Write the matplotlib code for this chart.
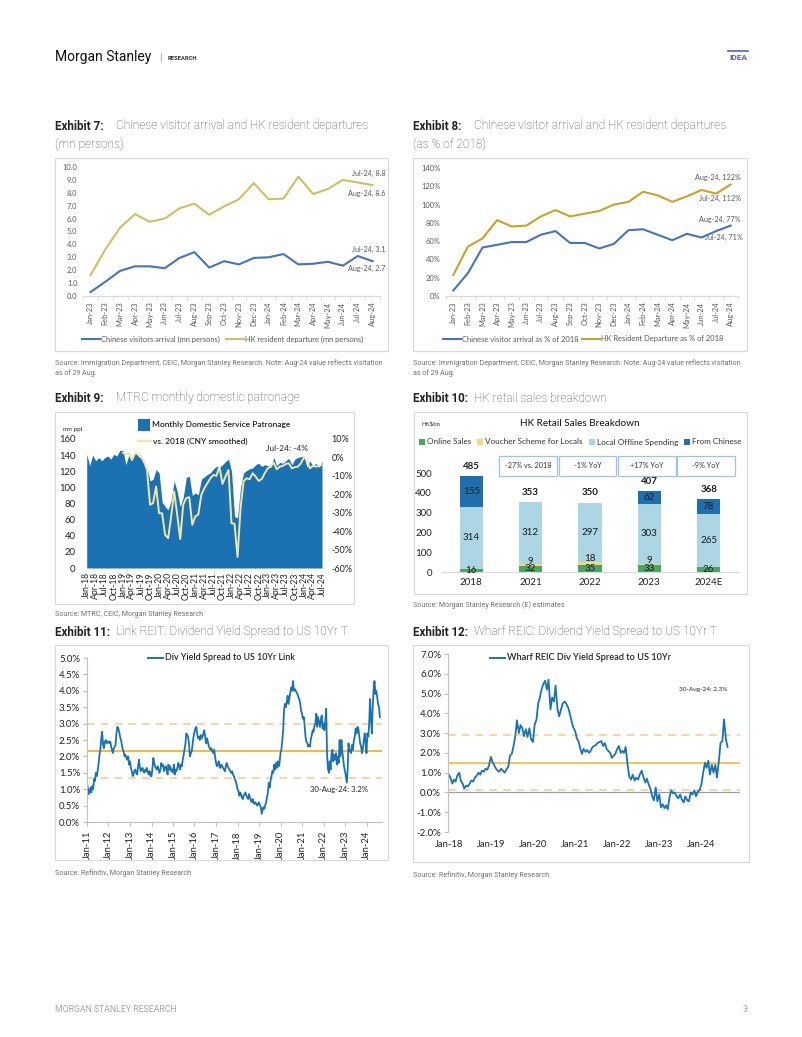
import matplotlib
matplotlib.use("Agg")
import matplotlib.pyplot as plt
import matplotlib.dates as mdates
from matplotlib.patches import Rectangle
from matplotlib.lines import Line2D
import numpy as np
import pandas as pd

# ---------------- data ----------------
months_2324 = ["Jan-23", "Feb-23", "Mar-23", "Apr-23", "May-23", "Jun-23", "Jul-23", "Aug-23",
               "Sep-23", "Oct-23", "Nov-23", "Dec-23", "Jan-24", "Feb-24", "Mar-24", "Apr-24",
               "May-24", "Jun-24", "Jul-24", "Aug-24"]
cn_arrivals_mn = [0.3, 1.1, 1.95, 2.3, 2.3, 2.15, 2.95, 3.4, 2.2, 2.7, 2.45, 2.95,
                  3.0, 3.25, 2.45, 2.5, 2.65, 2.35, 3.1, 2.7]
hk_departures_mn = [1.6, 3.6, 5.3, 6.35, 5.75, 6.0, 6.8, 7.15, 6.3, 6.95, 7.5, 8.75,
                    7.5, 7.55, 9.25, 7.9, 8.3, 9.0, 8.8, 8.6]
cn_arrivals_pct = [6, 25, 53, 56, 59, 59, 67, 71, 58, 58, 52, 57,
                   72, 73, 67, 61, 68, 64, 71, 77]
hk_departures_pct = [23, 54, 63, 83, 76, 77, 87, 94, 87, 90, 93, 100,
                     103, 114, 110, 103, 109, 116, 112, 122]

# MTR monthly domestic patronage (mn), Jan-18 .. Jul-24
mtr_patronage = [141, 127, 140, 133, 137, 133, 137, 139, 135, 141, 139, 146,
                 146, 128, 141, 135, 143, 139, 136, 129, 124, 108, 110, 122,
                 118, 82, 76, 72, 84, 108, 95, 76, 88, 112, 114, 90,
                 93, 91, 110, 113, 116, 118, 123, 126, 125, 128, 132, 135,
                 120, 64, 62, 100, 118, 121, 123, 124, 128, 130, 126, 128,
                 127, 125, 137, 127, 131, 130, 133, 136, 128, 135, 137, 138,
                 139, 125, 133, 126, 130, 125, 132]
# vs. 2018 (CNY smoothed, %), Jan-19 .. Jul-24
mtr_vs_2018 = [2.6, 1.7, 2.2, -1.4, 2.2, 2.0, 0.8, -2.3, -6.8, -25.7, -24.8, -15.8,
               -30.3, -30.3, -42.0, -43.8, -32.0, -18.5, -31.0, -44.3, -25.7, -22.0, -21.6, -36.6,
               -32.0, -31.0, -20.3, -16.7, -14.0, -11.3, -9.5, -10.0, -5.0, -14.4, -10.4, -6.8,
               -35.7, -36.0, -54.0, -27.5, -13.0, -11.3, -11.8, -8.6, -10.4, -12.7, -11.8, -8.6,
               -5.9, -5.0, -2.8, -6.4, -5.0, -4.6, -3.5, -3.2, -5.9, -5.3, -5.0, -3.2,
               0.1, -1.4, -5.9, -4.6, -5.0, -4.6, -4.0]

retail_years = ["2018", "2021", "2022", "2023", "2024E"]
online_sales = [16, 32, 35, 33, 26]
voucher_scheme = [0, 9, 18, 9, 0]
local_offline = [314, 312, 297, 303, 265]
from_chinese = [155, 0, 0, 62, 78]
retail_total = [485, 353, 350, 407, 368]
retail_growth = ["-27% vs. 2018", "-1% YoY", "+17% YoY", "-9% YoY"]

# Link REIT div yield spread (%), semi-monthly Jan-11 .. Aug-24
link_spread = [
    1.20, 1.05, 0.85, 0.95, 1.05, 0.90, 1.10, 1.00, 1.30, 1.25, 1.50, 1.40, 1.55, 1.75, 2.05, 2.20, 2.55, 2.75, 2.35, 2.25, 2.45, 2.50, 2.40, 2.45,
    2.45, 2.40, 2.45, 2.30, 2.20, 2.10, 2.25, 2.30, 2.35, 2.70, 2.90, 2.85, 2.75, 2.60, 2.50, 2.35, 2.20, 2.15, 2.00, 2.05, 1.95, 1.90, 2.00, 1.75,
    1.85, 1.65, 1.55, 1.40, 1.45, 1.55, 1.60, 1.50, 1.45, 1.65, 1.90, 1.70, 1.55, 1.60, 1.65, 1.55, 1.50, 1.60, 1.55, 1.65, 1.50, 1.45, 1.55, 1.40,
    1.40, 1.60, 1.95, 1.80, 1.70, 1.65, 1.60, 1.70, 1.60, 1.50, 1.60, 1.80, 1.70, 1.75, 1.55, 1.65, 1.70, 1.60, 1.45, 1.75, 1.60, 1.70, 1.55, 1.60,
    1.50, 1.75, 1.45, 1.60, 1.55, 1.65, 1.80, 1.70, 1.60, 1.75, 1.70, 1.90, 2.05, 2.20, 2.40, 2.70, 2.65, 2.60, 2.35, 2.00, 2.10, 2.15, 2.40, 2.60,
    2.75, 2.85, 2.90, 2.70, 2.55, 2.60, 2.50, 2.65, 2.55, 2.60, 2.70, 2.80, 2.60, 2.40, 2.55, 2.45, 2.30, 2.25, 2.20, 2.25, 2.15, 2.10, 2.20, 2.00,
    1.80, 1.70, 1.75, 1.85, 1.70, 1.65, 1.75, 1.70, 1.65, 1.60, 1.55, 1.70, 1.80, 1.70, 1.65, 1.60, 1.55, 1.50, 1.55, 1.45, 1.40, 1.30, 1.25, 1.15,
    1.00, 0.95, 0.80, 0.90, 0.85, 0.75, 0.70, 0.80, 0.85, 0.90, 0.80, 0.75, 0.70, 0.85, 0.75, 0.65, 0.60, 0.70, 0.60, 0.55, 0.60, 0.55, 0.50, 0.55,
    0.60, 0.50, 0.45, 0.25, 0.35, 0.45, 0.40, 0.50, 0.60, 0.75, 0.90, 1.20, 1.05, 1.25, 1.40, 1.55, 1.50, 1.75, 1.60, 1.80, 1.65, 1.85, 1.70, 1.80,
    2.10, 2.20, 2.50, 2.80, 3.40, 3.60, 3.50, 3.65, 3.85, 3.60, 3.80, 3.95, 4.10, 4.00, 4.30, 4.00, 4.05, 4.00, 3.95, 3.90, 3.80, 3.75, 3.60, 3.40,
    3.30, 3.15, 3.20, 2.90, 2.60, 2.45, 2.40, 2.30, 2.35, 2.30, 2.55, 2.65, 2.80, 2.75, 2.95, 3.00, 3.30, 2.90, 3.20, 3.05, 2.90, 3.10, 3.25, 2.85,
    3.00, 2.80, 3.10, 3.45, 2.10, 1.65, 1.50, 1.85, 1.60, 2.05, 2.20, 1.85, 2.05, 1.90, 2.10, 1.75, 2.00, 1.80, 2.50, 2.00, 2.50, 2.15, 1.90, 1.70,
    1.55, 1.40, 1.20, 1.60, 2.40, 2.15, 2.20, 2.10, 2.35, 2.20, 2.50, 2.60, 2.85, 2.70, 2.90, 2.85, 2.60, 2.40, 2.30, 2.10, 2.25, 2.50, 2.70, 2.40,
    2.10, 2.70, 2.60, 3.00, 3.75, 3.20, 2.70, 3.50, 4.05, 4.30, 3.90, 4.00, 3.80, 3.60, 3.50, 3.20,
]
link_mean, link_plus_sd, link_minus_sd = 2.15, 2.98, 1.33

# Wharf REIC div yield spread (%), semi-monthly Jan-18 .. Aug-24
wharf_spread = [
    0.90, 0.75, 0.45, 0.65, 0.55, 0.85, 1.00, 0.60, 0.45, 0.20, 0.35, 0.30, 0.45, 0.60, 0.55, 0.75, 0.85, 1.00, 0.90, 1.10, 1.05, 1.20, 1.15, 1.35,
    1.80, 1.55, 1.35, 1.20, 1.10, 1.05, 1.20, 1.10, 1.00, 1.15, 1.30, 1.85, 1.95, 2.30, 2.85, 3.65, 3.00, 3.40, 3.25, 2.85, 3.20, 2.80, 3.25, 2.70,
    2.55, 3.40, 3.70, 4.50, 4.80, 5.20, 5.50, 5.65, 5.20, 5.70, 4.20, 4.80, 4.60, 5.40, 4.20, 3.85, 4.20, 4.50, 4.60, 4.50, 4.30, 4.00, 3.60, 3.30,
    3.10, 2.75, 2.55, 2.20, 1.95, 2.20, 2.05, 2.15, 2.00, 2.10, 2.30, 2.35, 2.40, 2.50, 2.55, 2.60, 2.35, 2.50, 2.20, 2.10, 2.00, 1.75, 1.85, 1.95,
    2.20, 2.35, 2.00, 2.10, 2.00, 2.30, 1.40, 0.80, 0.65, 0.90, 0.60, 0.75, 0.65, 0.90, 1.10, 0.80, 0.50, 0.70, 0.40, 0.20, -0.20, -0.40, 0.25, -0.45,
    -0.10, -0.75, -0.60, -0.80, -0.65, -0.85, -0.20, 0.10, -0.05, 0.00, -0.20, -0.30, -0.10, -0.35, -0.50, -0.20, -0.40, -0.45, 0.00, -0.10, 0.10, -0.20, 0.05, 0.10,
    0.40, 0.95, 1.50, 1.25, 1.60, 0.90, 1.40, 1.00, 1.40, 0.75, 1.60, 2.50, 2.60, 3.70, 2.70, 2.30,
]
wharf_mean, wharf_plus_sd, wharf_minus_sd = 1.50, 2.88, 0.10

# ---------------- layout helpers (pixel coords, origin top-left) ----------------
W, H = 802, 1037
fig = plt.figure(figsize=(W / 100, H / 100), dpi=100)
fig.patch.set_facecolor("white")

PAGE_FONT = ["Roboto", "DejaVu Sans"]
CHART_FONT = ["Lato", "DejaVu Sans"]
plt.rcParams["font.family"] = CHART_FONT

BOX_EC = "#d9d9d9"
GREY_TXT = "#595959"
BLUE = "#4472c4"
GOLD7 = "#d2bd64"
GOLD8 = "#c9a227"
MTR_BLUE = "#1b72b3"
MTR_LINE = "#f0e6a6"
SPREAD_BLUE = "#1a73b1"
MEAN_C = "#f4b942"
SD_C = "#f5c98c"


def ax_px(x0, y0, x1, y1):
    return fig.add_axes([x0 / W, 1 - y1 / H, (x1 - x0) / W, (y1 - y0) / H])


def txt(x, y, s, **kw):
    kw.setdefault("va", "center")
    return fig.text(x / W, 1 - y / H, s, **kw)


def frame(x0, y0, x1, y1, ec=BOX_EC, lw=0.8):
    fig.add_artist(Rectangle((x0 / W, 1 - y1 / H), (x1 - x0) / W, (y1 - y0) / H,
                             transform=fig.transFigure, fill=False, ec=ec, lw=lw))


def hline(x0, x1, y, color, lw=1.5, ls="-"):
    fig.add_artist(Line2D([x0 / W, x1 / W], [1 - y / H] * 2, transform=fig.transFigure,
                          color=color, lw=lw, ls=ls))


def square(x, y, size, color):
    fig.add_artist(Rectangle((x / W, 1 - (y + size / 2) / H), size / W, size / H,
                             transform=fig.transFigure, color=color, lw=0))


def exhibit_title(x, y, num, text, second=None):
    txt(x, y, "Exhibit %d:" % num, fontsize=8.4, fontweight="bold", color="#222222", family=PAGE_FONT)
    txt(x + 61, y, text, fontsize=8.6, color="#4d4d4d", family=PAGE_FONT, fontweight="light")
    if second:
        txt(x, y + 18, second, fontsize=8.6, color="#4d4d4d", family=PAGE_FONT, fontweight="light")


def source(x, y, s):
    txt(x, y, s, fontsize=5.1, color="#707070", family=PAGE_FONT)


# ---------------- header / footer ----------------
txt(55, 57, "Morgan Stanley", fontsize=10, color="#111111", family=PAGE_FONT)
txt(159, 57, "|", fontsize=7, color="#999999", family=PAGE_FONT)
txt(168, 58, "RESEARCH", fontsize=4.2, fontweight="bold", color="#333333", family=PAGE_FONT)
txt(738, 58, "IDEA", fontsize=6, fontweight="bold", color="#5b5fc7", family=PAGE_FONT, ha="center")
hline(728, 748, 51, "#5b5fc7", lw=1.2)
txt(55, 1009, "MORGAN STANLEY RESEARCH", fontsize=6.3, color="#a6a6a6", family=PAGE_FONT)
txt(748, 1009, "3", fontsize=6.3, color="#a6a6a6", family=PAGE_FONT, ha="right")


def style_excel_line(ax, n):
    for s in ["left", "right", "top"]:
        ax.spines[s].set_visible(False)
    ax.spines["bottom"].set_color(BOX_EC)
    ax.set_xlim(-0.5, n - 0.5)
    ax.set_xticks(np.arange(n))
    ax.set_xticks(np.arange(n + 1) - 0.5, minor=True)
    ax.tick_params(axis="x", which="major", length=0, labelsize=5.4, labelcolor=GREY_TXT, pad=4)
    ax.tick_params(axis="x", which="minor", length=3, color=BOX_EC)
    ax.tick_params(axis="y", length=0, labelsize=5.4, labelcolor=GREY_TXT, pad=4)
    ax.set_facecolor("none")


# ---------------- Exhibit 7 ----------------
exhibit_title(55, 126, 7, "Chinese visitor arrival and HK resident departures", "(mn persons)")
frame(55, 158, 388, 351)
ax7 = ax_px(83, 167, 380, 296)
x = np.arange(len(months_2324))
ax7.plot(x, cn_arrivals_mn, color=BLUE, lw=1.5)
ax7.plot(x, hk_departures_mn, color=GOLD7, lw=1.5)
style_excel_line(ax7, len(months_2324))
ax7.set_ylim(0, 10)
ax7.set_yticks(np.arange(0, 11, 1))
ax7.set_yticklabels(["%.1f" % v for v in np.arange(0, 11, 1)])
ax7.set_xticklabels(months_2324, rotation=90)
for s, xx, yy in [("Jul-24, 8.8", 19.85, 9.53), ("Aug-24, 8.6", 19.85, 7.98),
                  ("Jul-24, 3.1", 19.85, 3.57), ("Aug-24, 2.7", 19.85, 2.17)]:
    ax7.text(xx, yy, s, ha="right", va="center", fontsize=5.2, color=GREY_TXT, clip_on=False)
hline(82, 100, 339, BLUE, lw=1.5)
txt(101, 339, "Chinese visitors arrival (mn persons)", fontsize=5.4, color=GREY_TXT)
hline(226, 244, 339, GOLD7, lw=1.5)
txt(245, 339, "HK resident departure (mn persons)", fontsize=5.4, color=GREY_TXT)
source(55, 363, "Source: Immigration Department, CEIC, Morgan Stanley Research. Note: Aug-24 value reflects visitation")
source(55, 373, "as of 29 Aug.")

# ---------------- Exhibit 8 ----------------
exhibit_title(413, 126, 8, "Chinese visitor arrival and HK resident departures", "(as % of 2018)")
frame(413, 158, 747, 351)
ax8 = ax_px(446, 168, 738, 296)
ax8.plot(x, cn_arrivals_pct, color=BLUE, lw=1.5)
ax8.plot(x, hk_departures_pct, color=GOLD8, lw=1.5)
style_excel_line(ax8, len(months_2324))
ax8.set_ylim(0, 140)
ax8.set_yticks(np.arange(0, 141, 20))
ax8.set_yticklabels(["%d%%" % v for v in np.arange(0, 141, 20)])
ax8.set_xticklabels(months_2324, rotation=90)
for s, xx, yy in [("Aug-24, 122%", 19.7, 130), ("Jul-24, 112%", 19.7, 107),
                  ("Aug-24, 77%", 19.7, 84), ("Jul-24, 71%", 19.85, 63.5)]:
    ax8.text(xx, yy, s, ha="right", va="center", fontsize=5.2, color=GREY_TXT, clip_on=False)
hline(443, 461, 339, BLUE, lw=1.5)
txt(462, 339, "Chinese visitor arrival as % of 2018", fontsize=5.4, color=GREY_TXT)
hline(582, 600, 339, GOLD8, lw=1.5)
txt(601, 339, "HK Resident Departure as % of 2018", fontsize=5.4, color=GREY_TXT)
source(413, 363, "Source: Immigration Department, CEIC, Morgan Stanley Research. Note: Aug-24 value reflects visitation")
source(413, 373, "as of 29 Aug.")

# ---------------- Exhibit 9 ----------------
exhibit_title(55, 398, 9, "MTRC monthly domestic patronage")
frame(55, 412, 354, 604)
ax9 = ax_px(86.7, 439, 322, 568)
mtr_dates = pd.date_range("2018-01-01", periods=len(mtr_patronage), freq="MS")
idx = np.arange(len(mtr_patronage))
ax9.fill_between(idx, mtr_patronage, 0, color=MTR_BLUE, lw=0)
ax9.set_xlim(0, len(idx) - 1)
ax9.set_ylim(0, 160)
ax9.set_yticks(np.arange(0, 161, 20))
ax9.set_xticks(idx[::3])
ax9.set_xticklabels([d.strftime("%b-%y") for d in mtr_dates[::3]], rotation=90)
ax9.tick_params(axis="x", length=0, labelsize=6.2, labelcolor="#222222", pad=3)
ax9.tick_params(axis="y", length=0, labelsize=6.8, labelcolor="#222222", pad=8)
ax9r = ax9.twinx()
ax9r.plot(idx[12:], mtr_vs_2018, color=MTR_LINE, lw=1.4)
ax9r.set_ylim(-60, 10)
ax9r.set_yticks(np.arange(-60, 11, 10))
ax9r.set_yticklabels(["%d%%" % v for v in np.arange(-60, 11, 10)])
ax9r.tick_params(axis="y", length=0, labelsize=6.5, labelcolor="#222222", pad=7)
for a in (ax9, ax9r):
    for s in a.spines.values():
        s.set_visible(False)
ax9r.text(66.5, 4.6, "Jul-24: -4%", ha="center", va="center", fontsize=6, color="#222222")
txt(63, 429, "mn ppl", fontsize=4.6, color="#222222")
square(138, 425, 12, MTR_BLUE)
txt(152, 425, "Monthly Domestic Service Patronage", fontsize=6, color="#222222", fontweight="semibold")
hline(138, 151, 441, MTR_LINE, lw=1.4)
txt(153, 441, "vs. 2018 (CNY smoothed)", fontsize=6, color="#222222", fontweight="semibold")
source(55, 614, "Source: MTRC, CEIC, Morgan Stanley Research")

# ---------------- Exhibit 10 ----------------
exhibit_title(413, 398, 10, "HK retail sales breakdown")
frame(414, 412, 747, 594)
ax10 = ax_px(441.6, 473, 738.3, 572)
bx = np.arange(len(retail_years))
bw = 0.39
c_online, c_voucher, c_local, c_cn = "#4aa564", "#f3d97a", "#acd6e4", "#1f6fae"
b0 = np.zeros(len(bx))
b1 = b0 + np.array(online_sales)
b2 = b1 + np.array(voucher_scheme)
b3 = b2 + np.array(local_offline)
ax10.bar(bx, online_sales, bw, bottom=b0, color=c_online, lw=0)
ax10.bar(bx, voucher_scheme, bw, bottom=b1, color=c_voucher, lw=0)
ax10.bar(bx, local_offline, bw, bottom=b2, color=c_local, lw=0)
ax10.bar(bx, from_chinese, bw, bottom=b3, color=c_cn, lw=0)
lab = dict(ha="center", va="center", fontsize=7, color="#1a1a1a")
for i in bx:
    ax10.text(i, b0[i] + online_sales[i] / 2, str(online_sales[i]), **lab)
    if voucher_scheme[i]:
        ax10.text(i, b2[i] + 14, str(voucher_scheme[i]), **lab)
    ax10.text(i, b2[i] + local_offline[i] / 2, str(local_offline[i]), **lab)
    if from_chinese[i]:
        ax10.text(i, b3[i] + from_chinese[i] / 2, str(from_chinese[i]), **lab)
    ax10.text(i, retail_total[i] + 50, str(retail_total[i]), ha="center", va="center",
              fontsize=7, fontweight="bold", color="#1a1a1a", clip_on=False)
for k, g in enumerate(retail_growth):
    cx = k + 1 - 0.04
    ax10.add_patch(Rectangle((cx - 0.485, 486), 0.97, 100, fill=False, ec="#9dc3e6", lw=0.9, clip_on=False))
    ax10.text(cx, 536, g, ha="center", va="center", fontsize=5.2, color="#333333", clip_on=False)
ax10.set_xlim(-0.5, len(bx) - 0.5)
ax10.set_ylim(0, 500)
ax10.set_yticks(np.arange(0, 501, 100))
ax10.set_xticks(bx)
ax10.set_xticklabels(retail_years)
for s in ["left", "right", "top"]:
    ax10.spines[s].set_visible(False)
ax10.spines["bottom"].set_color(BOX_EC)
ax10.tick_params(axis="both", length=0, labelsize=7, labelcolor="#222222")
ax10.tick_params(axis="y", pad=7)
ax10.tick_params(axis="x", pad=4)
txt(421, 424, "HK$bn", fontsize=4.4, color="#333333")
txt(580, 424, "HK Retail Sales Breakdown", fontsize=7.2, color="#111111", ha="center")
legend10 = [("Online Sales", c_online, 419), ("Voucher Scheme for Locals", c_voucher, 477),
            ("Local Offline Spending", c_local, 589), ("From Chinese", c_cn, 684)]
for name, col, lx in legend10:
    square(lx, 442, 5.5, col)
    txt(lx + 8, 442, name, fontsize=5.9, color="#333333")
source(413, 605, "Source: Morgan Stanley Research (E) estimates")


# ---------------- Exhibits 11 & 12 ----------------
def spread_axes(ax, ymin, ymax, step):
    ax.set_ylim(ymin, ymax)
    ax.set_yticks(np.arange(ymin, ymax + 0.01, step))
    ax.set_yticklabels(["%.1f%%" % v for v in np.arange(ymin, ymax + 0.01, step)])
    for s in ["right", "top"]:
        ax.spines[s].set_visible(False)
    ax.spines["left"].set_color("#bfbfbf")
    ax.spines["bottom"].set_color("#bfbfbf")
    ax.tick_params(axis="y", length=3, color="#bfbfbf", labelsize=7, labelcolor="#222222", pad=2)
    ax.tick_params(axis="x", length=3, color="#bfbfbf", labelsize=6.8, labelcolor="#222222")
    ax.set_facecolor("none")


exhibit_title(55, 632, 11, "Link REIT: Dividend Yield Spread to US 10Yr T")
frame(55, 645, 388, 860)
ax11 = ax_px(87, 658, 382, 822)
link_dates = pd.date_range("2011-01-01", periods=len(link_spread), freq="SMS")
ax11.axhline(link_mean, color=MEAN_C, lw=1.4)
ax11.axhline(link_plus_sd, color=SD_C, lw=1.1, ls=(0, (5, 4)))
ax11.axhline(link_minus_sd, color=SD_C, lw=1.1, ls=(0, (5, 4)))
ax11.plot(link_dates, link_spread, color=SPREAD_BLUE, lw=1.3)
spread_axes(ax11, 0, 5, 0.5)
ax11.set_xlim(pd.Timestamp("2011-01-01"), pd.Timestamp("2024-09-20"))
ax11.set_xticks(pd.date_range("2011-01-01", "2024-01-01", freq="YS"))
ax11.xaxis.set_major_formatter(mdates.DateFormatter("%b-%y"))
plt.setp(ax11.get_xticklabels(), rotation=90)
ax11.text(pd.Timestamp("2022-09-20"), 0.98, "30-Aug-24: 3.2%", ha="center", va="center",
          fontsize=5.6, color="#222222")
hline(148, 163, 658, SPREAD_BLUE, lw=1.4)
txt(165, 658, "Div Yield Spread to US 10Yr Link", fontsize=6.4, fontweight="semibold", color="#222222")
source(55, 873, "Source: Refinitiv, Morgan Stanley Research")

exhibit_title(413, 632, 12, "Wharf REIC: Dividend Yield Spread to US 10Yr T")
frame(413, 645, 749, 862)
ax12 = ax_px(448, 654, 740, 832)
wharf_dates = pd.date_range("2018-01-01", periods=len(wharf_spread), freq="SMS")
ax12.axhline(0, color="#8ea0c0", lw=0.9)
ax12.axhline(wharf_mean, color=MEAN_C, lw=1.2)
ax12.axhline(wharf_plus_sd, color=SD_C, lw=1.1, ls=(0, (5, 4)))
ax12.axhline(wharf_minus_sd, color=SD_C, lw=1.1, ls=(0, (5, 4)))
ax12.plot(wharf_dates, wharf_spread, color=SPREAD_BLUE, lw=1.3)
spread_axes(ax12, -2, 7, 1)
ax12.spines["bottom"].set_visible(False)
ax12.tick_params(axis="x", length=0, pad=6)
ax12.set_xlim(pd.Timestamp("2017-12-25"), pd.Timestamp("2024-12-01"))
ax12.set_xticks(pd.date_range("2018-01-01", "2024-01-01", freq="YS"))
ax12.xaxis.set_major_formatter(mdates.DateFormatter("%b-%y"))
ax12.text(pd.Timestamp("2024-01-15"), 5.18, "30-Aug-24: 2.3%", ha="center", va="center",
          fontsize=4.6, color="#222222")
hline(490, 505, 658, SPREAD_BLUE, lw=1.4)
txt(507, 658, "Wharf REIC Div Yield Spread to US 10Yr", fontsize=6.6, fontweight="semibold", color="#222222")
source(413, 875, "Source: Refinitiv, Morgan Stanley Research")

fig.savefig("out.png", dpi=100)
